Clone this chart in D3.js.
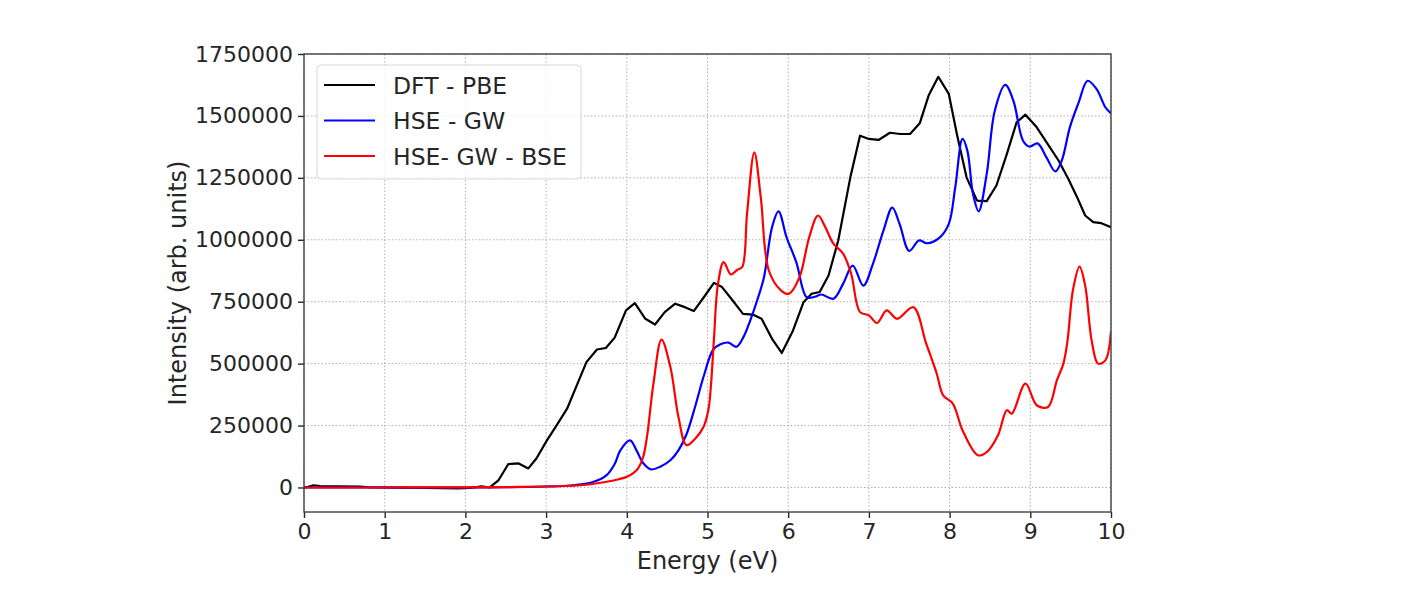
<!DOCTYPE html>
<html>
<head>
<meta charset="utf-8">
<script src="https://cdn.jsdelivr.net/npm/d3@7"></script>
<style>
  body { margin: 0; background: #fff; }
  text { font-family: "DejaVu Sans", sans-serif; fill: #262626; }
  .grid line { stroke: #b0b0b0; stroke-dasharray: 1.5 2; stroke-width: 1; }
</style>
</head>
<body>
<svg width="1416" height="604"></svg>
<script>
// energy grid (eV) and intensities (arb. units)
var dftX = [0,0.05,0.12,0.2,0.4,0.7,0.8,1.0,1.5,1.9,2.0,2.1,2.2,2.3,2.41,2.53,2.66,2.78,2.88,3.01,3.13,3.26,3.38,3.5,3.63,3.74,3.85,3.99,4.1,4.23,4.35,4.47,4.6,4.72,4.83,4.97,5.08,5.18,5.3,5.44,5.56,5.67,5.8,5.92,6.06,6.19,6.29,6.39,6.5,6.62,6.77,6.89,7.0,7.12,7.26,7.39,7.51,7.63,7.74,7.86,7.99,8.09,8.21,8.34,8.46,8.58,8.71,8.83,8.94,9.08,9.2,9.35,9.47,9.58,9.68,9.78,9.88,10.0];
var dftY = [0,3000,9000,6000,5000,4000,1000,0,-2000,-4000,-3000,0,5000,0,29000,94000,97000,77000,117000,190000,251000,318000,412000,506000,557000,563000,605000,715000,744000,681000,658000,708000,742000,728000,712000,775000,826000,809000,760000,701000,698000,681000,600000,543000,634000,748000,782000,789000,856000,997000,1252000,1420000,1407000,1403000,1432000,1427000,1427000,1470000,1582000,1658000,1589000,1427000,1252000,1158000,1156000,1219000,1347000,1474000,1505000,1454000,1394000,1320000,1246000,1172000,1098000,1071000,1067000,1051000];

var gwX = [0,1,2,2.5,3.0,3.3,3.58,3.75,3.85,3.92,4.04,4.12,4.2,4.3,4.42,4.54,4.64,4.74,4.85,4.95,5.07,5.16,5.26,5.36,5.45,5.53,5.62,5.7,5.8,5.88,5.98,6.1,6.23,6.33,6.41,6.56,6.68,6.8,6.93,7.05,7.18,7.29,7.38,7.5,7.62,7.72,7.88,7.99,8.07,8.16,8.22,8.29,8.36,8.46,8.56,8.69,8.79,8.91,8.99,9.09,9.2,9.31,9.39,9.49,9.6,9.71,9.82,9.93,10.0];
var gwY = [0,0,0,1000,4000,8000,22000,50000,95000,150000,190000,150000,100000,73000,85000,110000,150000,215000,330000,446000,556000,578000,585000,568000,610000,675000,760000,849000,1051000,1115000,1010000,910000,768000,770000,779000,762000,822000,896000,815000,903000,1037000,1130000,1064000,955000,997000,986000,1010000,1064000,1212000,1407000,1360000,1185000,1115000,1266000,1521000,1625000,1562000,1400000,1376000,1389000,1333000,1276000,1320000,1454000,1555000,1642000,1609000,1535000,1510000];

var bseX = [0,1,2,2.5,3.0,3.3,3.5,3.75,3.9,4.0,4.08,4.14,4.2,4.25,4.33,4.43,4.54,4.64,4.74,4.85,4.95,5.01,5.04,5.08,5.13,5.2,5.29,5.37,5.43,5.49,5.58,5.66,5.76,5.91,6.01,6.14,6.26,6.37,6.46,6.56,6.68,6.78,6.89,7.0,7.1,7.22,7.35,7.55,7.71,7.84,7.92,8.04,8.16,8.35,8.46,8.6,8.71,8.77,8.94,9.08,9.22,9.33,9.41,9.46,9.53,9.61,9.68,9.76,9.84,9.93,10.0];
var bseY = [0,0,500,1500,4000,7000,11000,23000,33000,43000,58000,77000,120000,204000,419000,597000,486000,285000,171000,198000,244000,312000,400000,600000,822000,910000,860000,879000,890000,1105000,1353000,1172000,876000,796000,782000,849000,1010000,1098000,1051000,984000,944000,863000,708000,695000,664000,715000,681000,728000,581000,460000,372000,339000,231000,130000,143000,211000,312000,298000,419000,332000,325000,433000,500000,590000,800000,892000,815000,594000,500000,513000,630000];

var seriesNames = ["DFT - PBE", "HSE - GW", "HSE- GW - BSE"];
var seriesColors = ["#000000", "#0000ff", "#ff0000"];
var xTicks = [0,1,2,3,4,5,6,7,8,9,10];
var yTicks = [0,250000,500000,750000,1000000,1250000,1500000,1750000];

var pLeft = 304, pRight = 1111, pTop = 54, pBottom = 512;

var svg = d3.select("svg");
var x = d3.scaleLinear().domain([0, 10]).range([pLeft, pRight]);
var y = d3.scaleLinear().domain([-99000, 1750000]).range([pBottom, pTop]);

// grid
svg.append("g").attr("class", "grid")
  .selectAll("line").data(xTicks).enter().append("line")
  .attr("x1", d => x(d)).attr("x2", d => x(d)).attr("y1", pTop).attr("y2", pBottom);
svg.append("g").attr("class", "grid")
  .selectAll("line").data(yTicks).enter().append("line")
  .attr("y1", d => y(d)).attr("y2", d => y(d)).attr("x1", pLeft).attr("x2", pRight);

// curves
var sets = [
  {xs: dftX, ys: dftY, curve: d3.curveLinear},
  {xs: gwX, ys: gwY, curve: d3.curveCatmullRom.alpha(0.5)},
  {xs: bseX, ys: bseY, curve: d3.curveCatmullRom.alpha(0.5)}
];
svg.append("clipPath").attr("id", "plotclip").append("rect")
  .attr("x", pLeft).attr("y", pTop).attr("width", pRight - pLeft).attr("height", pBottom - pTop);
sets.forEach(function(s, i) {
  var pts = s.xs.map((v, k) => [v, s.ys[k]]);
  svg.append("path")
    .attr("clip-path", "url(#plotclip)")
    .attr("d", d3.line().x(d => x(d[0])).y(d => y(d[1])).curve(s.curve)(pts))
    .attr("fill", "none")
    .attr("stroke", seriesColors[i])
    .attr("stroke-width", 2.2)
    .attr("stroke-linejoin", "round");
});

// axes
var xAxis = svg.append("g").attr("transform", "translate(0," + pBottom + ")")
  .call(d3.axisBottom(x).tickValues(xTicks).tickSize(6).tickPadding(5).tickFormat(d3.format("d")));
var yAxis = svg.append("g").attr("transform", "translate(" + pLeft + ",0)")
  .call(d3.axisLeft(y).tickValues(yTicks).tickSize(6).tickPadding(5).tickFormat(d3.format("d")));
[xAxis, yAxis].forEach(function(a) {
  a.select(".domain").remove();
  a.selectAll("line").attr("stroke", "#262626").attr("stroke-width", 1.4);
  a.selectAll("text").style("font-size", "22px").attr("fill", "#262626");
});
svg.append("rect").attr("x", pLeft).attr("y", pTop)
  .attr("width", pRight - pLeft).attr("height", pBottom - pTop)
  .attr("fill", "none").attr("stroke", "#404040").attr("stroke-width", 1.4);

// labels
svg.append("text").attr("x", (pLeft + pRight) / 2).attr("y", 569)
  .attr("text-anchor", "middle").style("font-size", "24px").text("Energy (eV)");
svg.append("text").attr("transform", "translate(186," + (pTop + pBottom) / 2 + ") rotate(-90)")
  .attr("text-anchor", "middle").style("font-size", "24px").text("Intensity (arb. units)");

// legend
var lg = svg.append("g");
lg.append("rect").attr("x", 317).attr("y", 65).attr("width", 264).attr("height", 114)
  .attr("rx", 4).attr("fill", "#fff").attr("fill-opacity", 0.8)
  .attr("stroke", "#d6d6d6").attr("stroke-width", 1);
seriesNames.forEach(function(n, i) {
  var yy = 85 + i * 35.5;
  lg.append("line").attr("x1", 324).attr("x2", 375).attr("y1", yy).attr("y2", yy)
    .attr("stroke", seriesColors[i]).attr("stroke-width", 2.2);
  lg.append("text").attr("x", 393).attr("y", yy + 8.5).style("font-size", "23.5px").text(n);
});
</script>
</body>
</html>
